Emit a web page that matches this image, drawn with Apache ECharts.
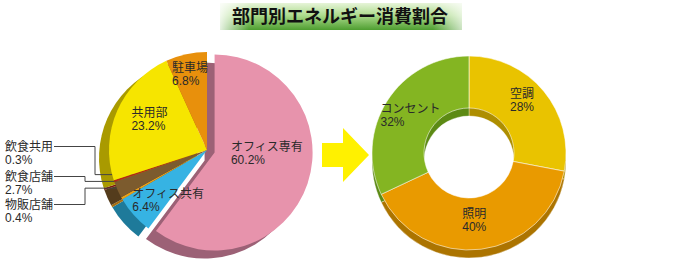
<!DOCTYPE html>
<html><head><meta charset="utf-8">
<script src="https://cdn.jsdelivr.net/npm/echarts@6/dist/echarts.min.js"></script>
<style>html,body{margin:0;padding:0;background:#fff}#c{width:677px;height:275px}</style>
</head><body><div id="c"></div>
<script>
// ---- data ----
const TITLE = '部門別エネルギー消費割合';
const leftNames = ['オフィス専有','オフィス共有','物販店舗','飲食店舗','飲食共用','共用部','駐車場'];
const leftValues = [60.2, 6.4, 0.4, 2.7, 0.3, 23.2, 6.8];
const rightNames = ['空調','照明','コンセント'];
const rightValues = [28, 40, 32];

// ---- styles ----
const leftColors  = ['#E793AC','#36B3E3','#E9A21A','#7C5B2E','#B3261A','#F6E500','#E8900C'];
const leftShadow  = ['#9C6176','#1E7A9A','#A86E10','#543C1C','#7A160E','#A99A00','#A66508'];
const rightColors = ['#E9C300','#E99A00','#84B522'];
const rightShadow = ['#AE8E00','#AC7400','#5C8A14'];
const FONT = '"Liberation Sans", "Noto Sans CJK JP", sans-serif';
const NONE = 'rgba(0,0,0,0)';
const LC = [207,150], LR = 98, LSH = [-10, 8], EXPLODE = 8, EXPLODED = 0;
const RC = [469,153], RR = [45, 97], RSH = [0, 8];
const leftAdj = {'オフィス専有':[3,-15],'オフィス共有':[0,16],'共用部':[-10,-10],'駐車場':[-6,-25]};
const rightAdj = {'空調':[-4,-5],'照明':[-4,-6],'コンセント':[4,2]};
const outside = {'飲食共用':{top:140,elbow:95},'飲食店舗':{top:170,elbow:85},'物販店舗':{top:198,elbow:85}};

const rich = {t:{align:'left',fontSize:12,lineHeight:13,color:'#2a2a2a',fontFamily:FONT}};
function fmt(p){ return '{t|' + p.name + '}\n{t|' + p.value + '%}'; }

const chart = echarts.init(document.getElementById('c'), null, {renderer:'svg'});

const total = leftValues.reduce((a,b)=>a+b,0);
function midDir(idx){
  let cum = 0; for (let i=0;i<idx;i++) cum += leftValues[i];
  const a = (cum + leftValues[idx]/2)/total*2*Math.PI;
  return [Math.sin(a), -Math.cos(a)];
}
const ed = midDir(EXPLODED);
const PC = [LC[0] + ed[0]*EXPLODE, LC[1] + ed[1]*EXPLODE];

// mask: which items are painted in this series
function leftData(colors, mask, withLabels){
  return leftNames.map((n,i)=>{
    const on = mask(i);
    const d = {name:n, value:leftValues[i], itemStyle:{color: on ? colors[i] : NONE}};
    if (!on || !withLabels) d.label = {show:false};
    else if (outside[n]) { d.label = {position:'outside'}; d.labelLine = {show:true}; }
    return d;
  });
}
function rightData(colors){
  return rightNames.map((n,i)=>({name:n, value:rightValues[i], itemStyle:{color:colors[i]}}));
}

function leftLayout(p){
  const n = leftNames[p.dataIndex];
  const r = p.labelRect;
  if (outside[n]) {
    const o = outside[n];
    const x = 5, y = o.top;
    let dir = midDir(p.dataIndex);
    if (p.labelLinePoints && p.labelLinePoints[0]) {
      const q = p.labelLinePoints[0]; const dx = q[0]-LC[0], dy = q[1]-LC[1]; const L = Math.hypot(dx,dy);
      if (L>0) dir = [dx/L, dy/L];
    }
    const end = [LC[0]+dir[0]*LR*0.79, LC[1]+dir[1]*LR*0.79];
    const ly = y + 6.5;
    return {x:x, y:y, align:'left', verticalAlign:'top',
      labelLinePoints:[[x + r.width + 1, ly],[o.elbow, ly],[o.elbow, end[1]],[end[0], end[1]]]};
  }
  const a = leftAdj[n] || [0,0];
  return {x:r.x + r.width/2 + a[0], y:r.y + r.height/2 + a[1], align:'center', verticalAlign:'middle'};
}

const isEx = i => i === EXPLODED;
const notEx = i => i !== EXPLODED;
const common = {type:'pie', silent:true, startAngle:90, clockwise:true, avoidLabelOverlap:false,
  label:{show:true, position:'inside', formatter:fmt, rich:rich},
  labelLine:{show:false, lineStyle:{color:'#444', width:1}, length:5, length2:5}};

const option = {
  animation:false,
  title:{text:TITLE, left:232, top:6, padding:0,
    textStyle:{fontSize:18, fontWeight:'bold', color:'#111', fontFamily:'"Noto Sans CJK JP", sans-serif', lineHeight:18}},
  graphic:[
    {type:'rect', z:-1, shape:{x:220,y:3,width:242,height:27},
      style:{fill:new echarts.graphic.LinearGradient(0,0,0,1,[{offset:0,color:'#E6F4D8'},{offset:0.45,color:'#AEDC8E'},{offset:1,color:'#4E9E30'}])}},
    {type:'rect', z:-1, shape:{x:220,y:3,width:242,height:27},
      style:{fill:new echarts.graphic.LinearGradient(0,0,1,0,[{offset:0,color:'rgba(255,255,255,0.85)'},{offset:0.12,color:'rgba(255,255,255,0)'},{offset:0.88,color:'rgba(255,255,255,0)'},{offset:1,color:'rgba(255,255,255,0.7)'}])}},
    {type:'polygon', z:-1, shape:{points:[[322,143],[343,143],[343,128],[369,155],[343,182],[343,167],[322,167]]}, style:{fill:'#FFF100'}}
  ],
  series:[
    // 3D depth (shadow) of the left pie
    Object.assign({}, common, {center:[LC[0]+LSH[0], LC[1]+LSH[1]], radius:LR, z:1, label:{show:false},
      data:leftData(leftShadow, notEx, false)}),
    Object.assign({}, common, {center:[PC[0]+LSH[0], PC[1]+LSH[1]], radius:LR, z:1, label:{show:false},
      data:leftData(leftShadow, isEx, false)}),
    // exploded slice
    Object.assign({}, common, {center:PC, radius:LR, z:2, data:leftData(leftColors, isEx, true), labelLayout:leftLayout}),
    // remaining slices (drawn above so their labels stay on top)
    Object.assign({}, common, {center:LC, radius:LR, z:3, data:leftData(leftColors, notEx, true), labelLayout:leftLayout}),
    // donut
    {type:'pie', silent:true, center:[RC[0]+RSH[0], RC[1]+RSH[1]], radius:RR, startAngle:90, clockwise:true,
      label:{show:false}, labelLine:{show:false}, data:rightData(rightShadow), z:1,
      itemStyle:{borderColor:'rgba(255,255,255,0.35)', borderWidth:1}},
    {type:'pie', silent:true, center:RC, radius:RR, startAngle:90, clockwise:true, avoidLabelOverlap:false, z:2,
      itemStyle:{borderColor:'rgba(255,255,255,0.55)', borderWidth:1},
      label:{show:true, position:'inside', formatter:fmt, rich:rich},
      labelLine:{show:false}, data:rightData(rightColors),
      labelLayout:function(p){
        const r = p.labelRect; const a = rightAdj[rightNames[p.dataIndex]] || [0,0];
        return {x:r.x + r.width/2 + a[0], y:r.y + r.height/2 + a[1], align:'center', verticalAlign:'middle'};
      }
    }
  ]
};
chart.setOption(option);
</script></body></html>
